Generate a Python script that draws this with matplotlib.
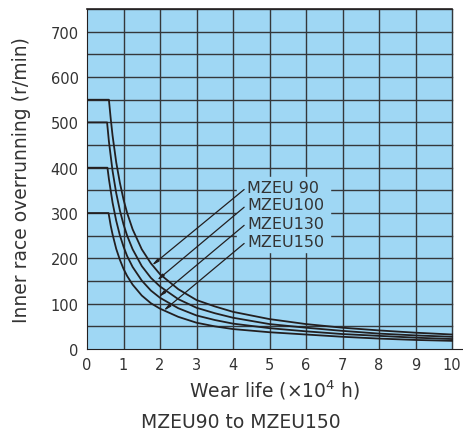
import numpy as np
import matplotlib
matplotlib.use("Agg")
import matplotlib.pyplot as plt
from matplotlib.patches import Rectangle

life_90 = [0, 0.6, 0.65, 0.7, 0.8, 0.9, 1.0, 1.1, 1.25, 1.5, 1.75, 2, 2.5, 3, 3.5, 4, 5, 6, 7, 8, 9, 10]
rpm_90 = [550, 550, 508, 471, 412, 367, 330, 300, 264, 220, 189, 165, 132, 108, 94, 82, 66, 55, 47, 41, 36, 32]

life_100 = [0, 0.55, 0.6, 0.7, 0.8, 0.9, 1.0, 1.1, 1.25, 1.5, 1.75, 2, 2.5, 3, 3.5, 4, 5, 6, 7, 8, 9, 10]
rpm_100 = [500, 500, 458, 393, 344, 306, 275, 250, 220, 183, 157, 138, 110, 91, 79, 69, 55, 47, 40, 34, 30, 27]

life_130 = [0, 0.56, 0.6, 0.7, 0.8, 0.9, 1.0, 1.1, 1.25, 1.5, 1.75, 2, 2.5, 3, 3.5, 4, 5, 6, 7, 8, 9, 10]
rpm_130 = [400, 400, 375, 323, 283, 251, 226, 205, 181, 151, 129, 113, 90, 74, 64, 56, 46, 39, 33, 29, 25, 22]

life_150 = [0, 0.59, 0.65, 0.7, 0.8, 0.9, 1.0, 1.1, 1.25, 1.5, 1.75, 2, 2.5, 3, 3.5, 4, 5, 6, 7, 8, 9, 10]
rpm_150 = [300, 300, 272, 253, 221, 197, 177, 161, 142, 118, 101, 89, 71, 58, 50, 44, 37, 32, 27, 23, 20, 18]

names = ["MZEU 90", "MZEU100", "MZEU130", "MZEU150"]
# where each leader line touches its curve
arrow_pts = [(1.77, 184), (1.91, 151), (1.95, 114), (2.09, 84)]
label_y = [357, 318, 278, 238]

blue = "#9fd7f4"
ink = "#231f20"
grid_c = "#34373a"

fig = plt.figure(figsize=(4.64, 4.39), dpi=100)
ax = fig.add_axes([0.1875, 0.2027, 0.8105, 0.7743])
ax.set_xlim(0, 10.3)
ax.set_ylim(0, 750)
ax.set_facecolor("white")

ax.add_patch(Rectangle((0, 0), 10, 750, color=blue, zorder=0))
for x in range(1, 11):
    ax.plot([x, x], [0, 750], color=grid_c, lw=1.0, zorder=1)
for y in range(50, 751, 50):
    ax.plot([0, 10], [y, y], color=grid_c, lw=1.0, zorder=1)

# blue box behind the model labels
ax.add_patch(Rectangle((4.1, 215), 2.55, 165, color=blue, zorder=2))

for xs, ys in [(life_90, rpm_90), (life_100, rpm_100), (life_130, rpm_130), (life_150, rpm_150)]:
    ax.plot(xs, ys, color=ink, lw=1.3, zorder=3)

for name, (px, py), ly in zip(names, arrow_pts, label_y):
    ax.annotate(name, xy=(px, py), xytext=(4.38, ly), fontsize=11.5, color="#333333",
                va="center", ha="left", zorder=4,
                arrowprops=dict(arrowstyle="-|>,head_length=0.35,head_width=0.07", color=ink,
                                lw=0.9, shrinkA=0, shrinkB=0, relpos=(0, 0.5)))

for s in ["top", "right"]:
    ax.spines[s].set_visible(False)
ax.spines["left"].set_color(ink)
ax.spines["bottom"].set_color(ink)
ax.plot([0, 10], [750, 750], color=ink, lw=1.2, clip_on=False, zorder=5)

ax.set_xticks(range(0, 11))
ax.set_yticks(range(0, 701, 100))
ax.tick_params(length=0, labelsize=10.5, colors="#333333", pad=6)
ax.set_xlabel("Wear life (×10$^4$ h)", fontsize=13.5, color="#333333", labelpad=4)
ax.set_ylabel("Inner race overrunning (r/min)", fontsize=13.5, color="#333333", labelpad=14)

fig.text(0.52, 0.025, "MZEU90 to MZEU150", ha="center", fontsize=13.5, color="#333333")

fig.savefig("out.png", dpi=100)
